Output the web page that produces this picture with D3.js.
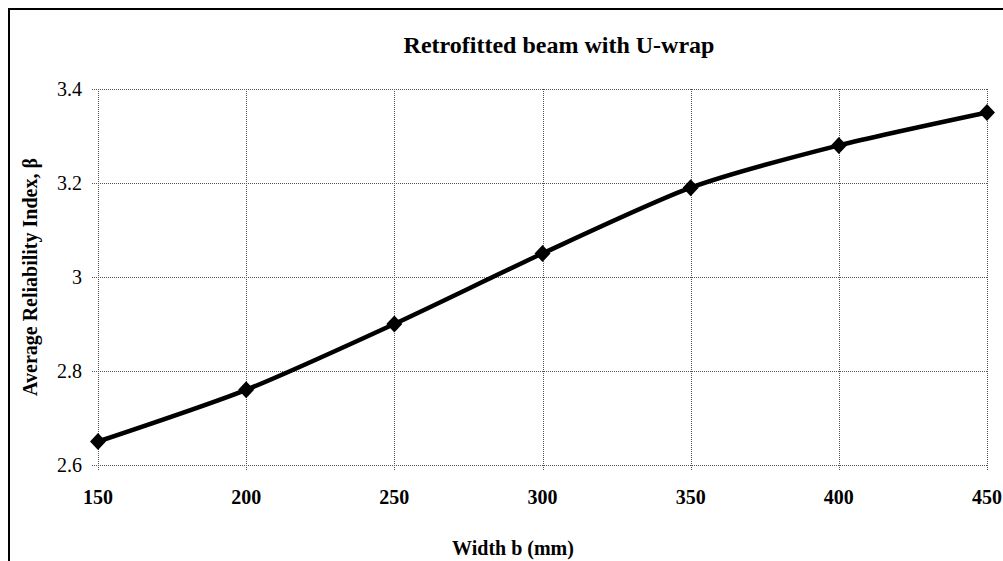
<!DOCTYPE html>
<meta charset="utf-8">
<script src="https://d3js.org/d3.v7.min.js"></script>
<style>
  body { margin: 0; background: #fff; }
</style>
<svg id="chart" width="1003" height="561" font-family="'Liberation Serif', 'DejaVu Serif', serif"></svg>
<script>
    // data
    const widths = [150, 200, 250, 300, 350, 400, 450];
    const beta = [2.65, 2.76, 2.90, 3.05, 3.19, 3.28, 3.35];
    const xTicks = [150, 200, 250, 300, 350, 400, 450];
    const yTicks = [2.6, 2.8, 3.0, 3.2, 3.4];

    const svg = d3.select("#chart");

    // outer chart frame (runs off the right and bottom)
    svg.append("rect")
        .attr("x", 9).attr("y", 9)
        .attr("width", 1100).attr("height", 700)
        .attr("fill", "none")
        .attr("stroke", "#000")
        .attr("stroke-width", 2);

    const x = d3.scaleLinear().domain([150, 450]).range([98, 987]);
    const y = d3.scaleLinear().domain([2.6, 3.4]).range([465, 89]);

    // grid
    const grid = svg.append("g")
        .attr("stroke", "#555")
        .attr("stroke-width", 1)
        .attr("stroke-dasharray", "1,1");
    grid.selectAll(".hg")
        .data(yTicks)
        .enter().append("line")
        .attr("x1", 92).attr("x2", x(450))
        .attr("y1", d => Math.round(y(d)) + 0.5)
        .attr("y2", d => Math.round(y(d)) + 0.5);
    grid.selectAll(".vg")
        .data(xTicks)
        .enter().append("line")
        .attr("y1", y(3.4)).attr("y2", 471)
        .attr("x1", d => Math.round(x(d)) + 0.5)
        .attr("x2", d => Math.round(x(d)) + 0.5);

    // y tick labels
    svg.append("g")
        .selectAll("text")
        .data(yTicks)
        .enter().append("text")
        .attr("x", 82)
        .attr("y", d => y(d))
        .attr("dy", "0.35em")
        .attr("text-anchor", "end")
        .attr("font-size", 20)
        .text(d => +d.toFixed(1));

    // x tick labels
    svg.append("g")
        .selectAll("text")
        .data(xTicks)
        .enter().append("text")
        .attr("x", d => x(d))
        .attr("y", 504)
        .attr("text-anchor", "middle")
        .attr("font-size", 20)
        .attr("font-weight", "bold")
        .text(d => d);

    // the series
    const pts = widths.map((w, i) => [w, beta[i]]);
    svg.append("path")
        .datum(pts)
        .attr("fill", "none")
        .attr("stroke", "#000")
        .attr("stroke-width", 4.5)
        .attr("stroke-linejoin", "round")
        .attr("d", d3.line()
            .x(d => x(d[0]))
            .y(d => y(d[1]))
            .curve(d3.curveCardinal.tension(0.3)));

    svg.append("g")
        .selectAll("path")
        .data(pts)
        .enter().append("path")
        .attr("transform", d => `translate(${x(d[0])},${y(d[1])})`)
        .attr("d", "M0,-8.5L8,0L0,8.5L-8,0Z")
        .attr("fill", "#000");

    // titles
    svg.append("text")
        .attr("x", 559).attr("y", 53)
        .attr("text-anchor", "middle")
        .attr("font-size", 24)
        .attr("font-weight", "bold")
        .text("Retrofitted beam with U-wrap");

    svg.append("text")
        .attr("x", 513).attr("y", 555)
        .attr("text-anchor", "middle")
        .attr("font-size", 20)
        .attr("font-weight", "bold")
        .text("Width b (mm)");

    svg.append("text")
        .attr("transform", "translate(37,277) rotate(-90)")
        .attr("text-anchor", "middle")
        .attr("font-size", 20)
        .attr("font-weight", "bold")
        .text("Average Reliability Index, β");
</script>
